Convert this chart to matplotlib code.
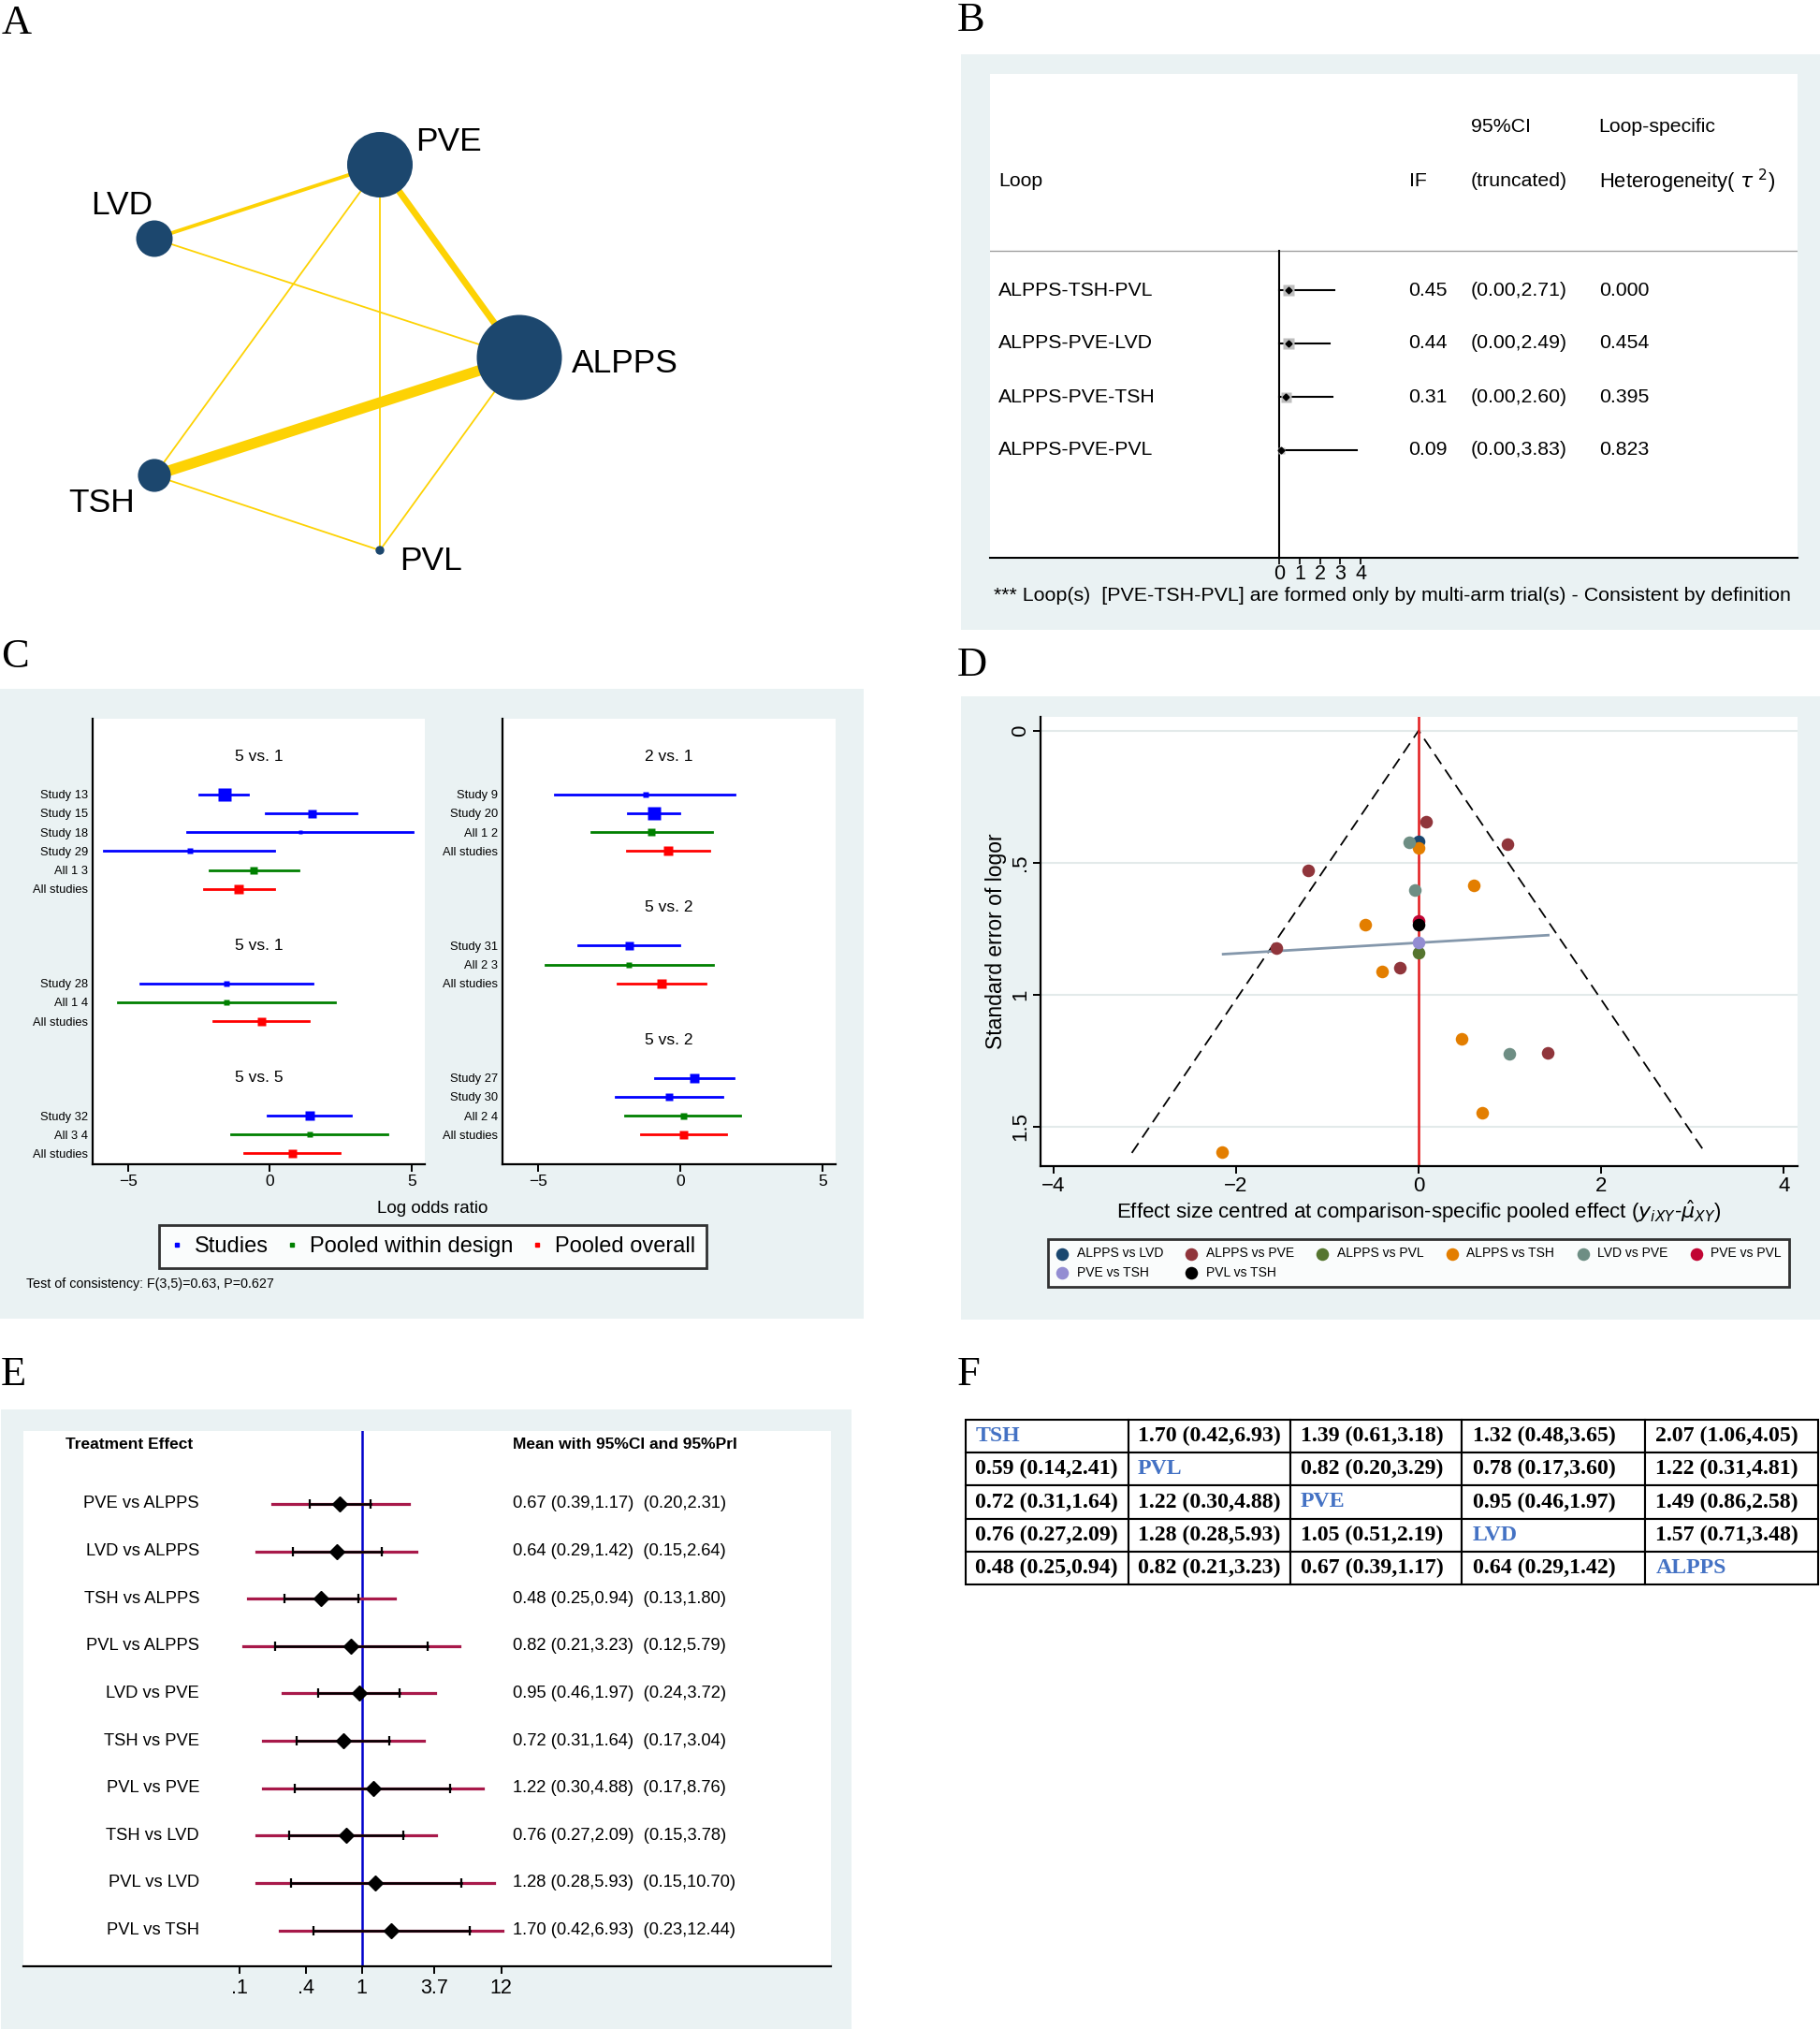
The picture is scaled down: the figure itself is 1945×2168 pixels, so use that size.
import numpy as np
import matplotlib.pyplot as plt
import matplotlib.transforms as mtransforms
from matplotlib.patches import Circle, Rectangle
from matplotlib.lines import Line2D
from matplotlib.ticker import NullLocator

plt.rcParams['font.family'] = ['Liberation Sans', 'DejaVu Sans']

W, H = 1945, 2168
BG = '#EAF2F3'

# ---------------- data ----------------
# A: network plot
a_nodes = ['PVE', 'LVD', 'ALPPS', 'TSH', 'PVL']
a_node_x = [406, 165, 555, 165, 406]
a_node_y = [176, 255, 382, 508, 588]
a_node_r = [35, 19.5, 45.5, 17.6, 4.7]
a_label_x = [444, 97, 611, 73, 427]
a_label_y = [161, 229, 398, 547, 609]
a_edges = [('PVE', 'LVD', 2.8), ('PVE', 'ALPPS', 5.0), ('PVE', 'TSH', 1.3),
           ('PVE', 'PVL', 1.3), ('LVD', 'ALPPS', 1.3), ('ALPPS', 'TSH', 8.2),
           ('ALPPS', 'PVL', 1.3), ('TSH', 'PVL', 1.3)]

# B: inconsistency loops
b_loops = ['ALPPS-TSH-PVL', 'ALPPS-PVE-LVD', 'ALPPS-PVE-TSH', 'ALPPS-PVE-PVL']
b_if = [0.45, 0.44, 0.31, 0.09]
b_lo = [0.00, 0.00, 0.00, 0.00]
b_hi = [2.71, 2.49, 2.60, 3.83]
b_tau2 = ['0.000', '0.454', '0.395', '0.823']
b_weight = [12, 12, 11, 7]

# C: side-splitting / design plot
c_left_titles = ['5 vs. 1', '5 vs. 1', '5 vs. 5']
c_left_title_rows = [2, 12, 19]
c_left_labels = ['Study 13', 'Study 15', 'Study 18', 'Study 29', 'All 1 3', 'All studies',
                 'Study 28', 'All 1 4', 'All studies', 'Study 32', 'All 3 4', 'All studies']
c_left_rows = [4, 5, 6, 7, 8, 9, 14, 15, 16, 21, 22, 23]
c_left_kind = ['s', 's', 's', 's', 'd', 'o', 's', 'd', 'o', 's', 'd', 'o']
c_left_est = [-1.61, 1.48, 1.07, -2.82, -0.56, -1.09, -1.54, -1.54, -0.31, 1.40, 1.40, 0.78]
c_left_lo = [-2.47, -0.14, -2.90, -5.86, -2.12, -2.33, -4.57, -5.37, -2.00, -0.06, -1.38, -0.89]
c_left_hi = [-0.76, 3.07, 5.04, 0.16, 1.01, 0.16, 1.52, 2.30, 1.38, 2.86, 4.16, 2.45]
c_left_size = [14, 9, 5, 5.5, 8.5, 10.5, 6, 5.5, 9, 10, 6, 9]

c_right_titles = ['2 vs. 1', '5 vs. 2', '5 vs. 2']
c_right_title_rows = [2, 10, 17]
c_right_labels = ['Study 9', 'Study 20', 'All 1 2', 'All studies', 'Study 31', 'All 2 3',
                  'All studies', 'Study 27', 'Study 30', 'All 2 4', 'All studies']
c_right_rows = [4, 5, 6, 7, 12, 13, 14, 19, 20, 21, 22]
c_right_kind = ['s', 's', 'd', 'o', 's', 'd', 'o', 's', 's', 'd', 'o']
c_right_est = [-1.21, -0.93, -1.01, -0.43, -1.79, -1.79, -0.66, 0.49, -0.39, 0.10, 0.12]
c_right_lo = [-4.40, -1.83, -3.13, -1.87, -3.58, -4.75, -2.20, -0.88, -2.28, -1.93, -1.38]
c_right_hi = [1.93, -0.04, 1.11, 1.01, -0.02, 1.17, 0.88, 1.89, 1.48, 2.10, 1.61]
c_right_size = [5.5, 14, 8, 10, 9, 6, 9.5, 9.5, 8, 7, 9]
c_colors = {'s': '#0000FF', 'd': '#008000', 'o': '#FF0000'}
c_legend = ['Studies', 'Pooled within design', 'Pooled overall']

# D: comparison-adjusted funnel plot
d_groups = ['ALPPS vs LVD', 'ALPPS vs PVE', 'ALPPS vs PVL', 'ALPPS vs TSH',
            'LVD vs PVE', 'PVE vs PVL', 'PVE vs TSH', 'PVL vs TSH']
d_colors = ['#1A476F', '#90353B', '#55752F', '#E37E00', '#6E8E84', '#C10534', '#938DD2', '#000000']
d_x = [[0.00],
       [0.08, 0.97, -1.21, -1.56, -0.20, 1.41],
       [0.00],
       [0.00, 0.60, -0.58, -0.40, 0.47, 0.70, -2.15],
       [-0.10, -0.04, 0.99],
       [0.00],
       [0.00],
       [0.00]]
d_se = [[0.420],
        [0.346, 0.431, 0.530, 0.824, 0.899, 1.221],
        [0.842],
        [0.446, 0.587, 0.736, 0.913, 1.168, 1.448, 1.596],
        [0.424, 0.604, 1.225],
        [0.721],
        [0.802],
        [0.736]]
d_funnel_x = [-3.14, 0.0, 3.14]
d_funnel_y = [1.60, 0.0, 1.60]
d_reg_x = [-2.14, 1.42]
d_reg_y = [0.847, 0.775]

# E: league forest plot
e_labels = ['PVE vs ALPPS', 'LVD vs ALPPS', 'TSH vs ALPPS', 'PVL vs ALPPS', 'LVD vs PVE',
            'TSH vs PVE', 'PVL vs PVE', 'TSH vs LVD', 'PVL vs LVD', 'PVL vs TSH']
e_mean = [0.67, 0.64, 0.48, 0.82, 0.95, 0.72, 1.22, 0.76, 1.28, 1.70]
e_ci_lo = [0.39, 0.29, 0.25, 0.21, 0.46, 0.31, 0.30, 0.27, 0.28, 0.42]
e_ci_hi = [1.17, 1.42, 0.94, 3.23, 1.97, 1.64, 4.88, 2.09, 5.93, 6.93]
e_pr_lo = [0.20, 0.15, 0.13, 0.12, 0.24, 0.17, 0.17, 0.15, 0.15, 0.23]
e_pr_hi = [2.31, 2.64, 1.80, 5.79, 3.72, 3.04, 8.76, 3.78, 10.70, 12.44]
e_ticks = [0.111, 0.368, 1.0, 3.67, 12.18]
e_ticklabels = ['.1', '.4', '1', '3.7', '12']

# F: league table
f_names = ['TSH', 'PVL', 'PVE', 'LVD', 'ALPPS']
f_values = [
    [None, '1.70 (0.42,6.93)', '1.39 (0.61,3.18)', '1.32 (0.48,3.65)', '2.07 (1.06,4.05)'],
    ['0.59 (0.14,2.41)', None, '0.82 (0.20,3.29)', '0.78 (0.17,3.60)', '1.22 (0.31,4.81)'],
    ['0.72 (0.31,1.64)', '1.22 (0.30,4.88)', None, '0.95 (0.46,1.97)', '1.49 (0.86,2.58)'],
    ['0.76 (0.27,2.09)', '1.28 (0.28,5.93)', '1.05 (0.51,2.19)', None, '1.57 (0.71,3.48)'],
    ['0.48 (0.25,0.94)', '0.82 (0.21,3.23)', '0.67 (0.39,1.17)', '0.64 (0.29,1.42)', None],
]


def box(l, t, r, b):
    return [l / W, 1 - b / H, (r - l) / W, (b - t) / H]


fig = plt.figure(figsize=(W / 100, H / 100), dpi=100)


def backdrop(l, t, r, b):
    fig.add_artist(Rectangle((l / W, 1 - b / H), (r - l) / W, (b - t) / H,
                             transform=fig.transFigure, facecolor=BG,
                             edgecolor='none', zorder=-10))


def ftext(x, y, s, **kw):
    return fig.text(x / W, 1 - y / H, s, **kw)


# panel letters
for letter, lx, ly in [('A', 2, 36), ('B', 1023, 33), ('C', 1, 713),
                       ('D', 1023, 722), ('E', 1, 1480), ('F', 1023, 1480)]:
    ftext(lx, ly, letter, family='Liberation Serif', fontsize=32, va='baseline')

# ---------------- A ----------------
axA = fig.add_axes(box(0, 40, 740, 640))
axA.set_xlim(0, 740)
axA.set_ylim(640, 40)
axA.axis('off')
pos = {n: (x, y) for n, x, y in zip(a_nodes, a_node_x, a_node_y)}
for n1, n2, w in a_edges:
    axA.plot([pos[n1][0], pos[n2][0]], [pos[n1][1], pos[n2][1]],
             color='#FDD204', lw=w, solid_capstyle='butt', zorder=1)
for n, x, y, r, tx, ty in zip(a_nodes, a_node_x, a_node_y, a_node_r, a_label_x, a_label_y):
    axA.add_patch(Circle((x, y), r, facecolor='#1C476E', edgecolor='none', zorder=2))
    axA.text(tx, ty, n, fontsize=25.5, ha='left', va='baseline')

# ---------------- B ----------------
backdrop(1027, 58, 1945, 673)
x0px, unit = 1367.3, 21.7
row0, rowh = 310, 57.0


def bx(px):
    return (px - x0px) / unit


def by(py):
    return (py - row0) / rowh


axB = fig.add_axes(box(1058, 79, 1921, 596))
axB.set_xlim(bx(1058), bx(1921))
axB.set_ylim(by(596), by(79))
for s in ['top', 'right', 'left']:
    axB.spines[s].set_visible(False)
axB.spines['bottom'].set_linewidth(1.5)
axB.set_xticks([0, 1, 2, 3, 4])
axB.tick_params(axis='x', direction='out', length=5, width=1.2, labelsize=15.5, pad=0)
axB.set_yticks([])
axB.axhline(by(268), color='#A0A0A0', lw=1.0)
axB.plot([0, 0], [by(268), by(596)], color='black', lw=1.5, clip_on=False)
fs = 15.3
axB.text(bx(1572), by(135.6), '95%CI', fontsize=fs, va='center')
axB.text(bx(1708.7), by(135.6), 'Loop-specific', fontsize=fs, va='center')
axB.text(bx(1067), by(193.4), 'Loop', fontsize=fs, va='center')
axB.text(bx(1506), by(193.4), 'IF', fontsize=fs, va='center')
axB.text(bx(1572), by(193.4), '(truncated)', fontsize=fs, va='center')
axB.text(bx(1708.7), by(193.4), r'Heterogeneity( $\tau^{\ 2}$)', fontsize=fs + 0.5, va='center')
for i, (lp, v, lo, hi, t2, wt) in enumerate(zip(b_loops, b_if, b_lo, b_hi, b_tau2, b_weight)):
    axB.plot([lo, hi], [i, i], color='black', lw=1.5)
    axB.plot(v, i, 's', color='#BEBEBE', ms=wt * 0.72, mec='none')
    axB.plot(v, i, 'D', color='black', ms=3.5)
    axB.text(bx(1067), i, lp, fontsize=fs, va='center')
    axB.text(bx(1505), i, f'{v:.2f}', fontsize=fs, va='center')
    axB.text(bx(1572), i, f'({lo:.2f},{hi:.2f})', fontsize=fs, va='center')
    axB.text(bx(1708.7), i, t2, fontsize=fs, va='center')
ftext(1062, 636, '*** Loop(s)  [PVE-TSH-PVL] are formed only by multi-arm trial(s) - Consistent by definition',
      fontsize=15.4, va='center')

# ---------------- C ----------------
backdrop(0, 736, 923, 1409)
axCL = fig.add_axes(box(99, 768, 454, 1244))
axCR = fig.add_axes(box(537, 768, 893, 1244))
for ax, titles, trows, labels, rows, kinds, est, lo, hi, sizes in [
        (axCL, c_left_titles, c_left_title_rows, c_left_labels, c_left_rows, c_left_kind,
         c_left_est, c_left_lo, c_left_hi, c_left_size),
        (axCR, c_right_titles, c_right_title_rows, c_right_labels, c_right_rows, c_right_kind,
         c_right_est, c_right_lo, c_right_hi, c_right_size)]:
    ax.set_xlim(-6.25, 5.47)
    ax.set_ylim(23.57, 0)
    for s in ['top', 'right']:
        ax.spines[s].set_visible(False)
    for s in ['left', 'bottom']:
        ax.spines[s].set_linewidth(1.6)
    trans = mtransforms.blended_transform_factory(ax.transAxes, ax.transData)
    for t, r in zip(titles, trows):
        ax.text(0.5, r, t, transform=trans, ha='center', va='center', fontsize=12.5)
    for r, k, e, l, h, sz in zip(rows, kinds, est, lo, hi, sizes):
        ax.plot([l, h], [r, r], color=c_colors[k], lw=2)
        ax.plot(e, r, 's', color=c_colors[k], ms=sz * 0.72, mec='none')
    ax.set_yticks(rows, labels)
    ax.tick_params(axis='y', length=0, labelsize=9.3, pad=3.3)
    ax.set_xticks([-5, 0, 5])
    ax.tick_params(axis='x', direction='out', length=6, width=1.4, labelsize=12.5, pad=2)
ftext(462, 1292, 'Log odds ratio', fontsize=13.5, ha='center', va='center')
c_handles = [Line2D([], [], marker='s', ls='none', color=c_colors[k], ms=3.5) for k in ['s', 'd', 'o']]
legC = fig.legend(c_handles, c_legend, loc='center', ncol=3, mode='expand',
                  bbox_to_anchor=(170 / W, 1 - 1354 / H, 585 / W, 44 / H),
                  fontsize=17, frameon=True, fancybox=False, edgecolor='black',
                  handlelength=0.6, handletextpad=0.5, borderpad=0.5, borderaxespad=0)
legC.get_frame().set_linewidth(2)
ftext(28, 1372, 'Test of consistency: F(3,5)=0.63, P=0.627', fontsize=10.3, va='center')

# ---------------- D ----------------
backdrop(1027, 744, 1945, 1410)
axD = fig.add_axes(box(1112, 766, 1921, 1246))
axD.set_xlim(-4.14, 4.15)
axD.set_ylim(1.65, -0.052)
for s in ['top', 'right']:
    axD.spines[s].set_visible(False)
for s in ['left', 'bottom']:
    axD.spines[s].set_linewidth(1.6)
axD.set_yticks([0, 0.5, 1, 1.5], ['0', '.5', '1', '1.5'])
axD.set_xticks([-4, -2, 0, 2, 4])
axD.tick_params(axis='y', labelrotation=90, direction='out', length=6, width=1.4, labelsize=16, pad=2)
for lab in axD.get_yticklabels():
    lab.set_va('center')
axD.tick_params(axis='x', direction='out', length=6, width=1.4, labelsize=16, pad=2)
axD.yaxis.grid(True, color='#E3EAEA', lw=1.5)
axD.set_axisbelow(True)
axD.plot(d_funnel_x, d_funnel_y, color='black', lw=1.3, ls=(0, (7, 4)), zorder=2)
axD.axvline(0, color='#E31A1C', lw=1.8, zorder=2)
axD.plot(d_reg_x, d_reg_y, color='#8497AB', lw=2, zorder=3)
d_handles = []
for g, c, xs, ys in zip(d_groups, d_colors, d_x, d_se):
    d_handles.append(axD.scatter(xs, ys, s=95, color=c, label=g, zorder=4, linewidths=0))
ftext(1516, 1294.7,
      r'Effect size centred at comparison-specific pooled effect ($y_{iXY}$-$\hat{\mu}_{XY}$)',
      fontsize=16, ha='center', va='center')
ftext(1065, 1006, 'Standard error of logor', fontsize=16.5, rotation=90, ha='center', va='center')
order = [0, 6, 1, 7, 2, 3, 4, 5]
legD = fig.legend([d_handles[i] for i in order], [d_groups[i] for i in order],
                  loc='center', ncol=6, mode='expand',
                  bbox_to_anchor=(1120 / W, 1 - 1378 / H, 792 / W, 57 / H),
                  fontsize=10, frameon=True, fancybox=False, edgecolor='black',
                  handlelength=1.0, handletextpad=0.6, borderpad=0.6, borderaxespad=0,
                  labelspacing=0.45, scatterpoints=1)
legD.get_frame().set_linewidth(2)

# ---------------- E ----------------
backdrop(1, 1506, 910, 2168)
axE = fig.add_axes(box(25, 1529, 888, 2101))
axE.set_xscale('log')
axE.set_xlim(np.exp(-6.07), np.exp(8.41))
axE.set_ylim(9.76, -1.54)
for s in ['top', 'right', 'left']:
    axE.spines[s].set_visible(False)
axE.spines['bottom'].set_linewidth(1.6)
axE.set_yticks([])
axE.set_xticks(e_ticks, e_ticklabels)
axE.xaxis.set_minor_locator(NullLocator())
axE.tick_params(axis='x', direction='out', length=6, width=1.4, labelsize=15.5, pad=3)
axE.axvline(1, color='#0000CC', lw=1.8, zorder=1)
transE = mtransforms.blended_transform_factory(axE.transAxes, axE.transData)
axE.text((69.6 - 25) / 863, -1.26, 'Treatment Effect', transform=transE,
         fontsize=12.5, fontweight='bold', va='center')
axE.text((548.5 - 25) / 863, -1.26, 'Mean with 95%CI and 95%PrI', transform=transE,
         fontsize=12.5, fontweight='bold', va='center')
for i, (lab, m, l, h, pl, ph) in enumerate(zip(e_labels, e_mean, e_ci_lo, e_ci_hi, e_pr_lo, e_pr_hi)):
    axE.plot([pl, ph], [i, i], color='#A8194A', lw=2.3, zorder=2)
    axE.plot([l, h], [i, i], color='black', lw=1.8, zorder=3)
    axE.plot([l, h], [i, i], ls='none', marker='|', ms=7, mew=1.6, color='black', zorder=3)
    axE.plot(m, i, 'D', color='black', ms=8, zorder=4)
    axE.text((213 - 25) / 863, i, lab, transform=transE, ha='right', va='center', fontsize=13.2)
    axE.text((548.5 - 25) / 863, i, f'{m:.2f} ({l:.2f},{h:.2f})  ({pl:.2f},{ph:.2f})',
             transform=transE, ha='left', va='center', fontsize=13.2)

# ---------------- F ----------------
axF = fig.add_axes(box(1032, 1517, 1943, 1693))
axF.axis('off')
cells = [[f_names[i] if v is None else v for v in row] for i, row in enumerate(f_values)]
col_w = np.array([173.8, 173.1, 183.1, 196.6, 184.8])
tbl = axF.table(cellText=cells, colWidths=list(col_w / col_w.sum()), bbox=[0, 0, 1, 1],
                cellLoc='left')
tbl.auto_set_font_size(False)
for (r, c), cell in tbl.get_celld().items():
    cell.PAD = 0.06
    cell.set_linewidth(1.5)
    cell.set_edgecolor('black')
    cell.get_text().set_fontsize(17.2)
    cell.get_text().set_fontfamily('Liberation Serif')
    cell.get_text().set_fontweight('bold')
    if r == c:
        cell.get_text().set_color('#4472C4')

fig.savefig('out.png', dpi=100)
